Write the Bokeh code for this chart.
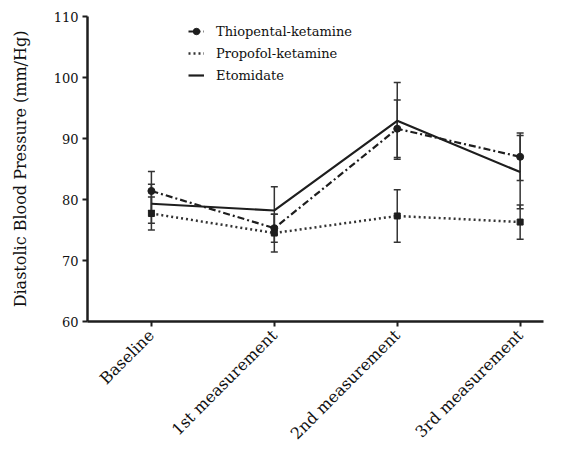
from math import pi
from bokeh.plotting import figure
from bokeh.models import (ColumnDataSource, Whisker, TeeHead, Legend, LegendItem,
                          FixedTicker, Range1d)
from bokeh.embed import file_html
from bokeh.resources import INLINE

categories = ["Baseline", "1st measurement", "2nd measurement", "3rd measurement"]
xs = [0, 1, 2, 3]

thio_mean = [81.4, 75.3, 91.6, 87.0]
thio_sd = [3.2, 2.3, 4.7, 3.9]
prop_mean = [77.7, 74.5, 77.3, 76.3]
prop_sd = [2.7, 3.1, 4.3, 2.8]
etom_mean = [79.3, 78.2, 92.9, 84.5]
etom_sd = [3.2, 3.9, 6.3, 6.0]

y_ticks = [60, 70, 80, 90, 100, 110]

FONT = "DejaVu Serif"
INK = "#1e1e1e"

p = figure(width=568, height=452, output_backend="svg", toolbar_location=None,
           x_range=Range1d(-0.52, 3.19), y_range=Range1d(60, 110),
           min_border_left=87, min_border_right=25, min_border_top=16, min_border_bottom=129)
p.outline_line_color = None
p.grid.visible = False
p.background_fill_color = "white"

def make_src(mean, sd):
    return ColumnDataSource(dict(x=xs, y=mean,
                                 lo=[m - s for m, s in zip(mean, sd)],
                                 hi=[m + s for m, s in zip(mean, sd)]))

s_thio = make_src(thio_mean, thio_sd)
s_prop = make_src(prop_mean, prop_sd)
s_etom = make_src(etom_mean, etom_sd)

for src in (s_etom, s_thio, s_prop):
    w = Whisker(base="x", lower="lo", upper="hi", source=src, line_color="#333333",
                line_width=1.5,
                upper_head=TeeHead(size=7, line_color="#333333", line_width=1.5),
                lower_head=TeeHead(size=7, line_color="#333333", line_width=1.5))
    p.add_layout(w)

l_etom = p.line("x", "y", source=s_etom, line_color=INK, line_width=2.2)
l_thio = p.line("x", "y", source=s_thio, line_color=INK, line_width=2.2,
                line_dash="7 3 2 3")
m_thio = p.scatter("x", "y", source=s_thio, marker="circle", size=7,
                   fill_color=INK, line_color=INK)
l_prop = p.line("x", "y", source=s_prop, line_color="#333333", line_width=2.5,
                line_dash="2 3")
m_prop = p.scatter("x", "y", source=s_prop, marker="square", size=6,
                   fill_color=INK, line_color=INK)

legend = Legend(items=[
    LegendItem(label="Thiopental-ketamine", renderers=[l_thio, m_thio]),
    LegendItem(label="Propofol-ketamine", renderers=[l_prop]),
    LegendItem(label="Etomidate", renderers=[l_etom]),
], location=(101, 236), orientation="vertical")
legend.label_text_font = FONT
legend.label_text_font_size = "13px"
legend.label_text_color = "#111111"
legend.glyph_width = 16
legend.glyph_height = 20
legend.label_height = 20
legend.label_standoff = 12
legend.spacing = 2
legend.padding = 0
legend.margin = 0
legend.border_line_color = None
legend.background_fill_alpha = 0
p.add_layout(legend)

for ax in (p.xaxis[0], p.yaxis[0]):
    ax.axis_line_width = 2.5
    ax.axis_line_color = INK
    ax.major_tick_line_width = 2
    ax.major_tick_line_color = INK
    ax.major_tick_out = 5
    ax.major_tick_in = 0
    ax.minor_tick_line_color = None
    ax.major_label_text_font = FONT
    ax.major_label_text_color = "#111111"

p.yaxis.major_label_text_font_size = "13px"
p.yaxis.ticker = FixedTicker(ticks=y_ticks)
p.yaxis.major_label_standoff = 4
p.yaxis.axis_label = "Diastolic Blood Pressure (mm/Hg)"
p.yaxis.axis_label_text_font = FONT
p.yaxis.axis_label_text_font_size = "16px"
p.yaxis.axis_label_text_font_style = "normal"
p.yaxis.axis_label_text_color = "#111111"
p.yaxis.axis_label_standoff = 21

p.xaxis.major_label_text_font_size = "16px"
p.xaxis.ticker = FixedTicker(ticks=xs)
p.xaxis.major_label_overrides = {x: c for x, c in zip(xs, categories)}
p.xaxis.major_label_orientation = pi / 4
p.xaxis.major_label_standoff = 6

open("out.html", "w").write(file_html(p, INLINE))
